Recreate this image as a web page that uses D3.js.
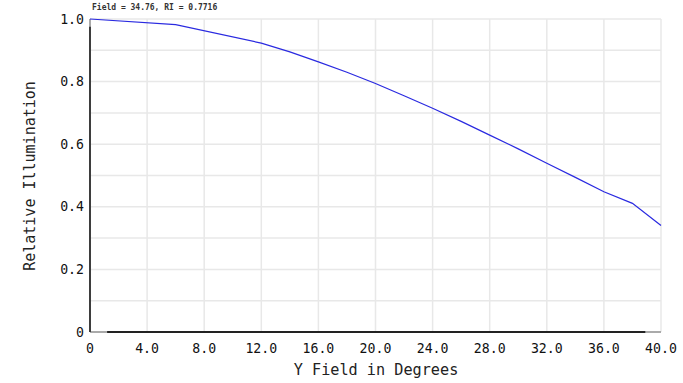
<!DOCTYPE html>
<html><head><meta charset="utf-8">
<script src="https://cdn.jsdelivr.net/npm/d3@7"></script>
<style>body{margin:0;background:#fff}svg{display:block}</style>
</head><body><svg id="c" width="683" height="383"></svg>
<script>
const fieldDeg = [0, 6, 12, 14, 16, 18, 20, 22, 24, 26, 28, 30, 32, 34, 36, 38, 40];
const relIllum = [1.0, 0.982, 0.923, 0.895, 0.863, 0.830, 0.794, 0.755, 0.715, 0.673, 0.629, 0.585, 0.539, 0.494, 0.448, 0.411, 0.340];
const xTicks = [0, 4, 8, 12, 16, 20, 24, 28, 32, 36, 40];
const yTicks = [0, 0.2, 0.4, 0.6, 0.8, 1.0];
const yGrid = [0, 0.1, 0.2, 0.3, 0.4, 0.5, 0.6, 0.7, 0.8, 0.9, 1.0];
const titleText = "Field = 34.76, RI = 0.7716";
const xTitle = "Y Field in Degrees";
const yTitle = "Relative Illumination";

const svg = d3.select("#c");
const font = "'DejaVu Sans Mono', 'Liberation Mono', monospace";
const x = d3.scaleLinear().domain([0, 40]).range([90, 661]);
const y = d3.scaleLinear().domain([0, 1]).range([332, 19]);

// grid
svg.append("g").selectAll("line").data(xTicks).join("line")
  .attr("x1", d => x(d)).attr("x2", d => x(d)).attr("y1", y(1)).attr("y2", y(0))
  .attr("stroke", "#e8e8e8").attr("stroke-width", 1.5);
svg.append("g").selectAll("line").data(yGrid).join("line")
  .attr("x1", x(0)).attr("x2", x(40)).attr("y1", d => y(d)).attr("y2", d => y(d))
  .attr("stroke", "#e8e8e8").attr("stroke-width", 1.5);

// axes lines
svg.append("line").attr("x1", x(0)).attr("x2", x(40)).attr("y1", y(0)).attr("y2", y(0))
  .attr("stroke", "#aaa").attr("stroke-width", 2);
svg.append("line").attr("x1", x(1.2)).attr("x2", x(38.9)).attr("y1", y(0)).attr("y2", y(0))
  .attr("stroke", "#222").attr("stroke-width", 2.2);
svg.append("line").attr("x1", x(0)).attr("x2", x(0)).attr("y1", y(1)).attr("y2", y(0))
  .attr("stroke", "#aaa").attr("stroke-width", 2);
svg.append("line").attr("x1", x(0)).attr("x2", x(0)).attr("y1", y(0.975)).attr("y2", y(0))
  .attr("stroke", "#222").attr("stroke-width", 1.6);

// tick labels
svg.append("g").selectAll("text").data(xTicks).join("text")
  .attr("x", d => x(d)).attr("y", 353).attr("text-anchor", "middle")
  .attr("font-family", font).attr("font-size", 13.2).attr("fill", "#111")
  .text(d => d === 0 ? "0" : d.toFixed(1));
svg.append("g").selectAll("text").data(yTicks).join("text")
  .attr("x", 84).attr("y", d => y(d) + 4.5).attr("text-anchor", "end")
  .attr("font-family", font).attr("font-size", 13.2).attr("fill", "#111")
  .text(d => d === 0 ? "0" : d.toFixed(1));

// line
const line = d3.line().x((d, i) => x(fieldDeg[i])).y(d => y(d));
svg.append("path").datum(relIllum).attr("d", line)
  .attr("fill", "none").attr("stroke", "#2a2ae0").attr("stroke-width", 1.2);

// titles
svg.append("text").attr("x", 92).attr("y", 10).attr("font-family", font)
  .attr("font-size", 8).attr("font-weight", "bold").attr("fill", "#333").text(titleText);
svg.append("text").attr("x", 376).attr("y", 375).attr("text-anchor", "middle")
  .attr("font-family", font).attr("font-size", 15.2).attr("fill", "#222").text(xTitle);
svg.append("text").attr("transform", "translate(35,176) rotate(-90)").attr("text-anchor", "middle")
  .attr("font-family", font).attr("font-size", 15).attr("fill", "#222").text(yTitle);
</script></body></html>
